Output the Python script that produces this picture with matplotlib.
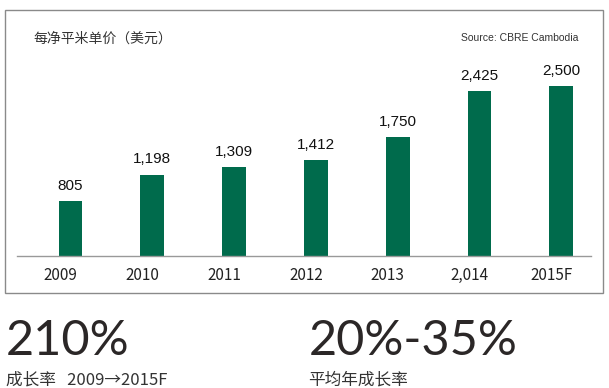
import matplotlib.pyplot as plt
import matplotlib.transforms as mtransforms
from matplotlib.patches import Rectangle

years = ['2009', '2010', '2011', '2012', '2013', '2,014', '2015F']
prices = [805, 1198, 1309, 1412, 1750, 2425, 2500]
price_labels = ['805', '1,198', '1,309', '1,412', '1,750', '2,425', '2,500']

cjk = ['Noto Sans CJK SC', 'DejaVu Sans']
green = '#006b4c'
dark = '#2b2727'

fig = plt.figure(figsize=(6.09, 3.88), dpi=100)
W, H = 609, 388

# frame around the chart
fig.patches.append(Rectangle((5 / W, 1 - 293 / H), 598 / W, 283 / H,
                             transform=fig.transFigure, fill=False,
                             edgecolor='#8a8a8a', linewidth=1.0))

ax = fig.add_axes([17 / W, 1 - 256 / H, 574 / W, 196 / H])
x = list(range(len(years)))
ax.bar(x, prices, width=0.293, color=green)
ax.set_xlim(-0.654, 6.363)
ax.set_ylim(0, 2882)

for xi, v, lab in zip(x, prices, price_labels):
    ax.annotate(lab, (xi, v), xytext=(0, 6), textcoords='offset points',
                ha='center', va='bottom', fontsize=11,
                family='Liberation Sans', color='#111111')

for s in ['top', 'left', 'right']:
    ax.spines[s].set_visible(False)
ax.spines['bottom'].set_color('#999999')
ax.spines['bottom'].set_linewidth(1.0)
ax.set_yticks([])
ax.set_xticks(x)
ax.set_xticklabels(years, fontsize=11, family=cjk, color='#222222')
ax.tick_params(axis='x', length=0, pad=8)
offset = mtransforms.ScaledTranslation(-10 / 100, 0, fig.dpi_scale_trans)
for lab in ax.get_xticklabels():
    lab.set_transform(lab.get_transform() + offset)

fig.text(33 / W, 1 - 39 / H, '每净平米单价（美元）', fontsize=10, family=cjk,
         color='#333333', va='center', ha='left')
fig.text(578 / W, 1 - 38 / H, 'Source: CBRE Cambodia', fontsize=7.5,
         family='Liberation Sans', color='#333333', va='center', ha='right')

fig.text(6 / W, 1 - 341 / H, '210%', fontsize=35, family='Lato', color=dark,
         va='center', ha='left')
fig.text(309 / W, 1 - 341 / H, '20%-35%', fontsize=35, family='Lato',
         color=dark, va='center', ha='left')
fig.text(6 / W, 1 - 380 / H, '成长率   2009→2015F', fontsize=12, family=cjk,
         color='#333333', va='center', ha='left')
fig.text(308 / W, 1 - 380 / H, '平均年成长率', fontsize=12, family=cjk,
         color='#333333', va='center', ha='left')

fig.savefig('out.png', dpi=100)
